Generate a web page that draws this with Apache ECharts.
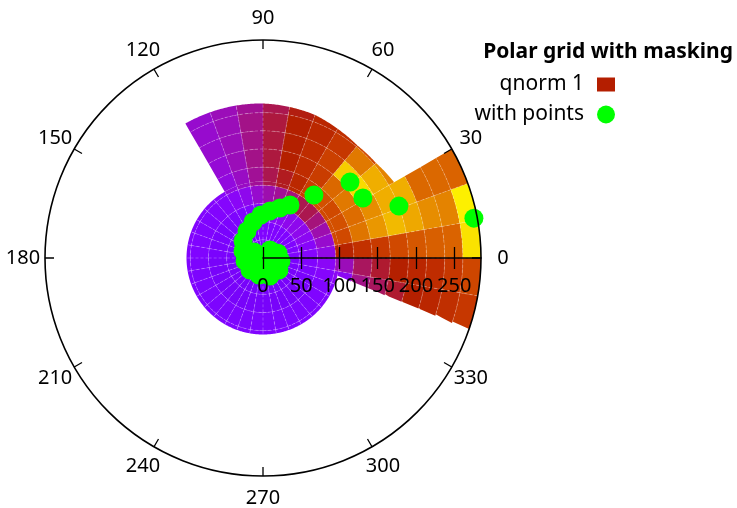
<!DOCTYPE html>
<html><head><meta charset="utf-8">
<script src="https://cdn.jsdelivr.net/npm/echarts@6/dist/echarts.min.js"></script>
<style>html,body{margin:0;padding:0;background:#fff}#c{width:737px;height:508px}</style>
</head><body><div id="c"></div>
<script>
const _ = null;
// tick labels
const angleTickValues = [0, 30, 60, 90, 120, 150, 180, 210, 240, 270, 300, 330];
const radiusTickValues = [0, 50, 100, 150, 200, 250];
// data points (radius, angle in degrees)
const pointR =     [0, 12.8, 12, 15.9, 14.1, 3, 13.8, 20.6, 23.8, 26.1, 25.2, 22.9, 23.1, 23.8, 27.7, 34.2, 41, 48.9, 56.2, 62.1, 69, 77.7, 105.8, 150.9, 152.3, 190.2, 280.6];
const pointTheta = [0, 336, 221, 279.5, 146, 63, 49, 18, 350.5, 323, 291, 257, 223, 189.5, 160.7, 139.6, 120.6, 105.5, 92.7, 81.5, 71.2, 63, 51, 41.1, 31, 20.9, 10.7];
// grid cell values (palette fraction), one array per ring (inner to outer), 36 sectors of 10 deg from 0 deg
const ring0 = [0.23,0.23,0.23,0.23,0.23,0.23,0.23,0.23,0.23,0.23,0.22,0.22,0.22,0.22,0.22,0.22,0.22,0.22,0.22,0.22,0.22,0.22,0.22,0.22,0.22,0.22,0.22,0.22,0.22,0.22,0.22,0.22,0.22,0.22,0.22,0.22];
const ring1 = [0.25,0.25,0.25,0.25,0.25,0.25,0.25,0.25,0.25,0.25,0.23,0.23,0.23,0.23,0.23,0.23,0.23,0.23,0.22,0.22,0.22,0.22,0.22,0.22,0.22,0.22,0.22,0.22,0.22,0.22,0.22,0.22,0.22,0.22,0.23,0.23];
const ring2 = [0.27,0.28,0.30,0.31,0.31,0.31,0.30,0.29,0.28,0.27,0.26,0.25,0.24,0.24,0.23,0.23,0.23,0.23,0.22,0.22,0.22,0.22,0.22,0.22,0.22,0.22,0.22,0.22,0.22,0.22,0.22,0.22,0.23,0.23,0.24,0.25];
const ring3 = [0.32,0.35,0.38,0.42,0.45,0.45,0.42,0.40,0.38,0.35,0.31,0.29,0.27,0.26,0.25,0.25,0.25,0.25,0.24,0.24,0.24,0.24,0.24,0.24,0.24,0.24,0.24,0.24,0.24,0.24,0.24,0.24,0.25,0.25,0.27,0.29];
const ring4 = [0.52,0.66,0.68,0.66,0.68,0.62,0.54,0.48,0.45,0.40,0.36,0.33,0.28,0.27,0.26,0.26,0.26,0.26,0.25,0.25,0.25,0.25,0.25,0.25,0.25,0.25,0.25,0.25,0.25,0.25,0.25,0.25,0.26,0.26,0.30,0.37];
const ring5 = [0.58,0.77,0.75,0.78,0.74,0.62,0.56,0.50,0.46,0.41,0.37,0.34,_,_,_,_,_,_,_,_,_,_,_,_,_,_,_,_,_,_,_,_,_,_,0.41,0.44];
const ring6 = [0.61,0.84,0.82,0.95,0.93,0.63,0.56,0.50,0.46,0.41,0.37,0.35,_,_,_,_,_,_,_,_,_,_,_,_,_,_,_,_,_,_,_,_,_,_,0.44,0.47];
const ring7 = [0.66,0.90,0.88,0.88,0.78,0.60,0.54,0.50,0.46,0.41,0.37,0.35,_,_,_,_,_,_,_,_,_,_,_,_,_,_,_,_,_,_,_,_,_,_,0.47,0.50];
const ring8 = [0.70,0.87,0.88,0.80,0.66,0.57,0.53,0.49,0.45,0.40,0.37,0.35,_,_,_,_,_,_,_,_,_,_,_,_,_,_,_,_,_,_,_,_,_,_,0.50,0.53];
const ring9 = [0.72,0.82,0.74,0.70,_,_,_,_,_,_,_,_,_,_,_,_,_,_,_,_,_,_,_,_,_,_,_,_,_,_,_,_,_,_,0.53,0.56];
const ring10 = [0.73,0.80,0.74,0.70,_,_,_,_,_,_,_,_,_,_,_,_,_,_,_,_,_,_,_,_,_,_,_,_,_,_,_,_,_,_,0.57,0.60];
const ring11 = [0.96,0.98,0.73,0.70,_,_,_,_,_,_,_,_,_,_,_,_,_,_,_,_,_,_,_,_,_,_,_,_,_,_,_,_,_,_,0.60,0.65];

// grid / mask geometry (data units)
const R_MAX = 285, RING_STEP = R_MAX / 12, SECTOR_STEP = 10, DISC_R = 100;
const TOP_ANG = [30, 40, 50, 60, 70, 90, 120];
const TOP_RAD = [198, 193, 192, 195, 199, 202, 203];
const LOW_M = -0.403, LOW_C = 16;
const RAD = Math.PI / 180;
function topRadius(u) {
  for (let i = 0; i < TOP_ANG.length - 1; i++) {
    if (u <= TOP_ANG[i + 1]) { const f = (u - TOP_ANG[i]) / (TOP_ANG[i + 1] - TOP_ANG[i]); return TOP_RAD[i] + f * (TOP_RAD[i + 1] - TOP_RAD[i]); }
  }
  return TOP_RAD[TOP_RAD.length - 1];
}
const PIECES = [
  { from: -180, to: 180, range: () => [0, DISC_R] },
  { from: 30, to: 120, range: u => [DISC_R, topRadius(u)] },
  { from: -25, to: 30, range: u => { const d = Math.sin(u * RAD) - LOW_M * Math.cos(u * RAD); const rin = d > 0 ? LOW_C / d : Infinity; return [Math.max(DISC_R, rin), R_MAX]; } }
];

// gnuplot default palette (rgbformulae 7,5,15)
const palette = [];
for (let i = 0; i <= 40; i++) {
  const x = i / 40;
  const r = Math.round(255 * Math.sqrt(x)), g = Math.round(255 * x * x * x), b = Math.round(255 * Math.max(0, Math.sin(2 * Math.PI * x)));
  palette.push('rgb(' + r + ',' + g + ',' + b + ')');
}

const rings = [ring0, ring1, ring2, ring3, ring4, ring5, ring6, ring7, ring8, ring9, ring10, ring11];
const cellData = [];
rings.forEach((row, k) => row.forEach((v, j) => { if (v != null) cellData.push([k * RING_STEP, j * SECTOR_STEP, v]); }));

const SEAM = { stroke: 'rgba(255,255,255,0.32)', lineWidth: 0.8, lineDash: [3, 2], fill: null };

function renderCell(params, api) {
  const r0 = api.value(0), t0 = api.value(1), r1 = r0 + RING_STEP;
  const u0 = t0 >= 180 ? t0 - 360 : t0, u1 = u0 + SECTOR_STEP;
  const color = api.visual('color');
  const children = [];
  PIECES.forEach(pc => {
    const a = Math.max(u0, pc.from), b = Math.min(u1, pc.to);
    if (b - a <= 1e-9) return;
    const n = Math.max(2, Math.ceil((b - a) / 0.5));
    const outer = [], inner = [], arc = [];
    let any = false, radial = null;
    for (let i = 0; i <= n; i++) {
      const u = a + (b - a) * i / n;
      const iv = pc.range(u);
      let lo = Math.max(r0, iv[0]), hi = Math.min(r1, iv[1]);
      if (hi <= lo) { lo = hi = Math.min(Math.max(iv[0], r0), r1); } else any = true;
      outer.push(api.coord([hi, u]));
      inner.push(api.coord([lo, u]));
      if (r0 > 0 && iv[0] < r0 - 1e-6 && r0 < iv[1] - 1e-6) arc.push(api.coord([r0, u]));
      if (i === 0 && Math.abs(a - u0) < 1e-9 && hi > lo) radial = [api.coord([lo, u]), api.coord([hi, u])];
    }
    if (!any) return;
    children.push({ type: 'polygon', z2: 0, shape: { points: outer.concat(inner.reverse()) }, style: { fill: color } });
    if (arc.length > 1) children.push({ type: 'polyline', z2: 5, shape: { points: arc }, style: SEAM });
    if (radial) children.push({ type: 'polyline', z2: 5, shape: { points: radial }, style: SEAM });
  });
  return { type: 'group', children: children };
}

const FONT = 'Noto Sans';
const CX = 263, CY = 258, PR = 218;
const chart = echarts.init(document.getElementById('c'), null, { renderer: 'canvas' });
chart.setOption({
  animation: false,
  backgroundColor: '#ffffff',
  title: { text: 'Polar grid with masking', right: 4, top: 42, padding: 0, textStyle: { fontFamily: FONT, fontSize: 21, fontWeight: 'bold', color: '#000' } },
  legend: {
    orient: 'vertical', right: 122, top: 74, padding: 0, align: 'right', itemWidth: 18, itemHeight: 18, itemGap: 9,
    textStyle: { fontFamily: FONT, fontSize: 21, color: '#000', padding: [0, 8, 0, 0] },
    data: [
      { name: 'qnorm 1', icon: 'path://M0 0H18V14H0Z', itemStyle: { color: '#b41e00' } },
      { name: 'with points', icon: 'circle', itemStyle: { color: '#00ff00' } }
    ]
  },
  visualMap: { type: 'continuous', show: false, min: 0, max: 1, dimension: 2, seriesIndex: 0, inRange: { color: palette } },
  polar: [{ center: [CX, CY], radius: PR }, { center: [CX + PR, CY], radius: PR }],
  angleAxis: [
    { polarIndex: 0, type: 'value', min: 0, max: 360, interval: 30, startAngle: 0, clockwise: false, z: 10,
      axisLine: { show: true, lineStyle: { color: '#000', width: 1.6 } },
      axisTick: { show: true, inside: true, length: 9, lineStyle: { color: '#000', width: 1.3 } },
      axisLabel: { show: false }, splitLine: { show: false } },
    { polarIndex: 1, type: 'value', min: 0, max: 360, startAngle: 180, clockwise: false, show: false }
  ],
  radiusAxis: [
    { polarIndex: 0, type: 'value', min: 0, max: R_MAX, z: 10,
      axisLine: { show: true, lineStyle: { color: '#000', width: 1.6 } },
      axisTick: { show: true, length: 11, customValues: radiusTickValues, lineStyle: { color: '#000', width: 1.3 } },
      axisLabel: { show: true, customValues: radiusTickValues, fontFamily: FONT, fontSize: 20, color: '#000', margin: -18, verticalAlign: 'top' },
      splitLine: { show: false } },
    { polarIndex: 1, type: 'value', min: 0, max: R_MAX, inverse: true, z: 10,
      axisLine: { show: false },
      axisTick: { show: true, length: 11, customValues: radiusTickValues, lineStyle: { color: '#000', width: 1.3 } },
      axisLabel: { show: false }, splitLine: { show: false } }
  ],
  series: [
    { name: 'qnorm 1', type: 'custom', coordinateSystem: 'polar', polarIndex: 0, data: cellData,
      dimensions: ['r', 'theta', 'v'], encode: { radius: 0, angle: 1 }, renderItem: renderCell, silent: true, z: 1 },
    { name: 'with points', type: 'scatter', coordinateSystem: 'polar', polarIndex: 0, clip: false,
      data: pointR.map((r, i) => [r, pointTheta[i]]), symbol: 'circle', symbolSize: 19,
      itemStyle: { color: '#00ff00', opacity: 1 }, silent: true, z: 3 },
    { name: 'angle labels', type: 'scatter', coordinateSystem: 'polar', polarIndex: 0, clip: false, silent: true,
      data: angleTickValues.map(a => [R_MAX * 240 / 218, a]), symbolSize: 0, itemStyle: { color: '#000' },
      label: { show: true, position: 'inside', formatter: p => String(p.value[1]), fontFamily: FONT, fontSize: 20, color: '#000', opacity: 1, textBorderWidth: 0 }, z: 4 }
  ]
});
</script></body></html>
